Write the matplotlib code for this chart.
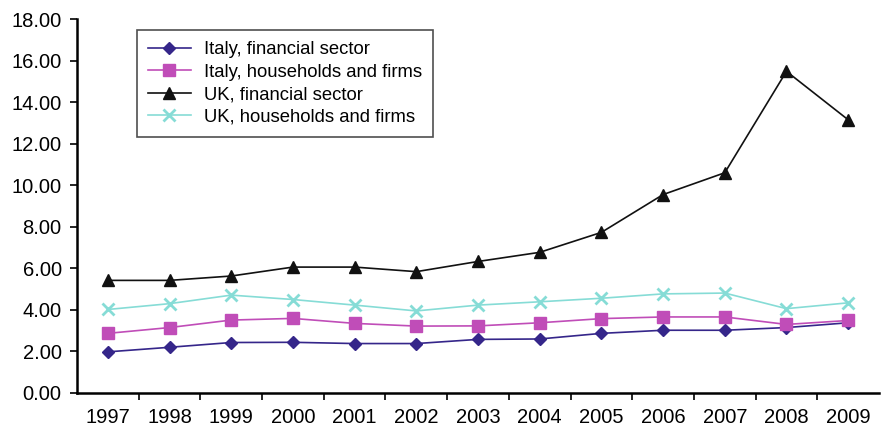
import matplotlib.pyplot as plt

plt.rcParams['font.family'] = ['Liberation Sans', 'DejaVu Sans']

years = ['1997', '1998', '1999', '2000', '2001', '2002', '2003',
         '2004', '2005', '2006', '2007', '2008', '2009']

italy_fin = [1.98, 2.20, 2.43, 2.44, 2.38, 2.38, 2.58, 2.60, 2.87, 3.02, 3.02, 3.15, 3.38]
italy_hh = [2.87, 3.15, 3.51, 3.59, 3.35, 3.22, 3.23, 3.38, 3.58, 3.66, 3.66, 3.30, 3.49]
uk_fin = [5.42, 5.42, 5.63, 6.06, 6.06, 5.84, 6.33, 6.77, 7.73, 9.55, 10.60, 15.48, 13.15]
uk_hh = [4.02, 4.30, 4.71, 4.50, 4.23, 3.95, 4.23, 4.39, 4.56, 4.77, 4.81, 4.06, 4.34]

fig = plt.figure(figsize=(8.82, 4.26), dpi=100)
ax = fig.add_axes([77/882, 33/426, 802/882, 374/426])

x = range(len(years))
ax.plot(x, italy_fin, color='#35268a', marker='D', markersize=6, lw=1.2,
        label='Italy, financial sector')
ax.plot(x, italy_hh, color='#c04db8', marker='s', markersize=8, lw=1.2,
        label='Italy, households and firms')
ax.plot(x, uk_fin, color='#111111', marker='^', markersize=8, lw=1.2,
        label='UK, financial sector')
ax.plot(x, uk_hh, color='#86dcd6', marker='x', markersize=8, mew=2, lw=1.2,
        label='UK, households and firms')

ax.set_xlim(-0.5, len(years) - 0.5)
ax.set_ylim(0, 18)
ax.set_yticks([i * 2 for i in range(10)])
ax.set_yticklabels(['%.2f' % (i * 2) for i in range(10)])
ax.set_xticks(x)
ax.set_xticklabels(years)
ax.set_xticks([i + 0.5 for i in range(len(years) - 1)], minor=True)
ax.tick_params(axis='x', which='major', length=0, pad=11, labelsize=14.5)
ax.tick_params(axis='x', which='minor', length=5, width=1.2, direction='out')
ax.tick_params(axis='y', length=5, width=1.2, labelsize=14.5, pad=6)

for side in ['top', 'right']:
    ax.spines[side].set_visible(False)
for side in ['left', 'bottom']:
    ax.spines[side].set_linewidth(1.8)

leg = ax.legend(loc='upper left', bbox_to_anchor=(137/882, 1 - 30/426),
                bbox_transform=fig.transFigure, borderaxespad=0,
                fancybox=False, edgecolor='#222222', fontsize=13.3,
                handlelength=2.3, labelspacing=0.3, borderpad=0.6,
                handletextpad=0.7)
leg.get_frame().set_linewidth(1.2)

fig.savefig('out.png', dpi=100)
